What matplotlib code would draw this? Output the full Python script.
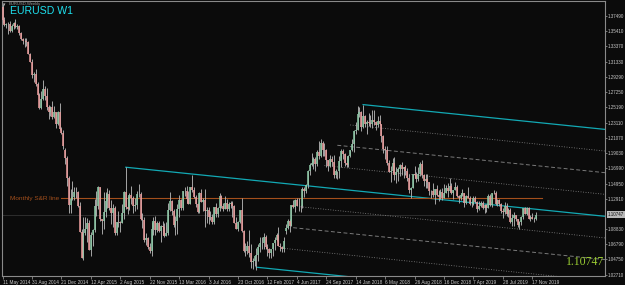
import numpy as np
import matplotlib.pyplot as plt
from matplotlib.transforms import blended_transform_factory

# EURUSD weekly bars, first bar = week of 11 May 2014
opens = [
    # 2014
    1.3870, 1.3696, 1.3630, 1.3633, 1.3643, 1.3542, 1.3608, 1.3645, 1.3595, 1.3605, 1.3523, 1.3430,
    1.3415, 1.3407, 1.3401, 1.3240, 1.3132, 1.2951, 1.2962, 1.2836, 1.2685, 1.2515, 1.2627, 1.2760,
    1.2672, 1.2526, 1.2450, 1.2526, 1.2387, 1.2451, 1.2289, 1.2462, 1.2229, 1.2180,
    # 2015
    1.1950, 1.1840, 1.1565, 1.1204, 1.1290, 1.1313, 1.1386, 1.1380, 1.1197, 1.0843, 1.0495, 1.0825,
    1.0890, 1.0970, 1.0603, 1.0807, 1.0872, 1.1199, 1.1200, 1.1448, 1.1015, 1.0987, 1.1110, 1.1265,
    1.1350, 1.1165, 1.1100, 1.1160, 1.0830, 1.0980, 1.0983, 1.0968, 1.1105, 1.1385, 1.1180, 1.1150,
    1.1338, 1.1297, 1.1196, 1.1211, 1.1360, 1.1350, 1.1015, 1.1003, 1.0740, 1.0770, 1.0645, 1.0590,
    1.0885, 1.0990, 1.0865, 1.0965,
    # 2016
    1.0856, 1.0925, 1.0915, 1.0797, 1.0830, 1.1134, 1.1255, 1.1130, 1.0932, 1.0996, 1.1155, 1.1270,
    1.1165, 1.1390, 1.1400, 1.1283, 1.1225, 1.1453, 1.1402, 1.1310, 1.1223, 1.1115, 1.1365, 1.1253,
    1.1277, 1.1120, 1.1138, 1.1050, 1.1040, 1.0975, 1.1174, 1.1086, 1.1165, 1.1323, 1.1197, 1.1155,
    1.1233, 1.1154, 1.1227, 1.1240, 1.1200, 1.0970, 1.0890, 1.0985, 1.1140, 1.0855, 1.0590, 1.0588,
    1.0660, 1.0560, 1.0448, 1.0450,
    # 2017
    1.0517, 1.0530, 1.0645, 1.0703, 1.0690, 1.0783, 1.0640, 1.0617, 1.0560, 1.0620, 1.0700, 1.0740,
    1.0800, 1.0652, 1.0640, 1.0620, 1.0860, 1.0895, 1.0998, 1.0930, 1.1205, 1.1180, 1.1280, 1.1197,
    1.1197, 1.1195, 1.1426, 1.1400, 1.1470, 1.1665, 1.1750, 1.1775, 1.1820, 1.1760, 1.1925, 1.1860,
    1.2035, 1.1945, 1.1950, 1.1813, 1.1730, 1.1820, 1.1785, 1.1605, 1.1665, 1.1665, 1.1795, 1.1930,
    1.1895, 1.1765, 1.1750, 1.1860, 1.1940,
    # 2018
    1.2030, 1.2200, 1.2220, 1.2425, 1.2460, 1.2250, 1.2405, 1.2295, 1.2315, 1.2310, 1.2290, 1.2355,
    1.2322, 1.2280, 1.2330, 1.2290, 1.2130, 1.1960, 1.1940, 1.1770, 1.1655, 1.1660, 1.1770, 1.1610,
    1.1655, 1.1684, 1.1745, 1.1685, 1.1720, 1.1657, 1.1570, 1.1410, 1.1440, 1.1625, 1.1605, 1.1555,
    1.1625, 1.1755, 1.1604, 1.1525, 1.1560, 1.1510, 1.1400, 1.1390, 1.1335, 1.1420, 1.1340, 1.1315,
    1.1380, 1.1305, 1.1370, 1.1440,
    # 2019
    1.1395, 1.1465, 1.1365, 1.1415, 1.1455, 1.1325, 1.1295, 1.1335, 1.1365, 1.1235, 1.1325, 1.1300,
    1.1217, 1.1217, 1.1300, 1.1245, 1.1150, 1.1200, 1.1235, 1.1160, 1.1205, 1.1170, 1.1330, 1.1210,
    1.1370, 1.1370, 1.1225, 1.1270, 1.1220, 1.1125, 1.1110, 1.1200, 1.1090, 1.1145, 1.0985, 1.1030,
    1.1075, 1.1017, 1.0940, 1.0980, 1.1040, 1.1170, 1.1080, 1.1165, 1.1020, 1.1050, 1.1020, 1.1016,
]
highs = [
    1.3906, 1.3733, 1.3650, 1.3670, 1.3677, 1.3641, 1.3658, 1.3700, 1.3640, 1.3620, 1.3530, 1.3444,
    1.3444, 1.3444, 1.3410, 1.3245, 1.3162, 1.2993, 1.3036, 1.2860, 1.2710, 1.2736, 1.2887, 1.2811,
    1.2774, 1.2545, 1.2535, 1.2599, 1.2531, 1.2456, 1.2470, 1.2570, 1.2250, 1.2208,
    1.1970, 1.1867, 1.1600, 1.1424, 1.1534, 1.1443, 1.1450, 1.1390, 1.1245, 1.0890, 1.1043, 1.1052,
    1.1035, 1.1000, 1.0850, 1.0890, 1.1290, 1.1392, 1.1467, 1.1450, 1.1020, 1.1380, 1.1385, 1.1436,
    1.1410, 1.1279, 1.1216, 1.1190, 1.0985, 1.1129, 1.0990, 1.1215, 1.1390, 1.1714, 1.1332, 1.1370,
    1.1460, 1.1330, 1.1295, 1.1390, 1.1495, 1.1387, 1.1095, 1.1042, 1.0830, 1.0780, 1.0690, 1.0981,
    1.1043, 1.1060, 1.0990, 1.0993,
    1.0941, 1.0986, 1.0960, 1.0985, 1.1240, 1.1376, 1.1270, 1.1152, 1.1059, 1.1218, 1.1342, 1.1290,
    1.1395, 1.1454, 1.1464, 1.1398, 1.1454, 1.1616, 1.1445, 1.1345, 1.1239, 1.1375, 1.1416, 1.1298,
    1.1428, 1.1180, 1.1186, 1.1120, 1.1080, 1.1176, 1.1235, 1.1185, 1.1366, 1.1340, 1.1240, 1.1327,
    1.1283, 1.1250, 1.1262, 1.1258, 1.1210, 1.1040, 1.0990, 1.1146, 1.1300, 1.0865, 1.0700, 1.0720,
    1.0874, 1.0680, 1.0490, 1.0520,
    1.0630, 1.0685, 1.0775, 1.0774, 1.0829, 1.0800, 1.0680, 1.0630, 1.0620, 1.0700, 1.0780, 1.0830,
    1.0906, 1.0700, 1.0660, 1.0780, 1.0951, 1.1020, 1.1024, 1.1213, 1.1268, 1.1285, 1.1296, 1.1296,
    1.1210, 1.1446, 1.1444, 1.1489, 1.1680, 1.1777, 1.1910, 1.1845, 1.1850, 1.1940, 1.2070, 1.2092,
    1.2060, 1.2035, 1.1960, 1.1815, 1.1880, 1.1860, 1.1880, 1.1688, 1.1670, 1.1860, 1.1960, 1.1961,
    1.1910, 1.1862, 1.1880, 1.1950, 1.2090,
    1.2215, 1.2323, 1.2537, 1.2523, 1.2470, 1.2555, 1.2415, 1.2355, 1.2446, 1.2410, 1.2476, 1.2478,
    1.2340, 1.2396, 1.2414, 1.2300, 1.2150, 1.1995, 1.1996, 1.1815, 1.1725, 1.1840, 1.1852, 1.1720,
    1.1720, 1.1762, 1.1790, 1.1720, 1.1750, 1.1700, 1.1620, 1.1445, 1.1620, 1.1734, 1.1650, 1.1720,
    1.1790, 1.1815, 1.1625, 1.1620, 1.1620, 1.1520, 1.1410, 1.1500, 1.1420, 1.1472, 1.1402, 1.1420,
    1.1440, 1.1486, 1.1475, 1.1500,
    1.1570, 1.1500, 1.1415, 1.1515, 1.1475, 1.1345, 1.1370, 1.1420, 1.1370, 1.1340, 1.1448, 1.1325,
    1.1255, 1.1325, 1.1324, 1.1265, 1.1265, 1.1265, 1.1265, 1.1215, 1.1215, 1.1348, 1.1348, 1.1370,
    1.1412, 1.1390, 1.1285, 1.1282, 1.1230, 1.1165, 1.1250, 1.1230, 1.1160, 1.1165, 1.1085, 1.1110,
    1.1075, 1.1025, 1.0990, 1.1060, 1.1170, 1.1180, 1.1175, 1.1175, 1.1070, 1.1095, 1.1040, 1.1116,
]
lows = [
    1.3647, 1.3617, 1.3585, 1.3503, 1.3525, 1.3530, 1.3575, 1.3590, 1.3573, 1.3491, 1.3421, 1.3367,
    1.3333, 1.3342, 1.3235, 1.3130, 1.2919, 1.2860, 1.2810, 1.2680, 1.2501, 1.2500, 1.2615, 1.2614,
    1.2488, 1.2358, 1.2396, 1.2360, 1.2380, 1.2247, 1.2275, 1.2220, 1.2165, 1.1960,
    1.1754, 1.1460, 1.1098, 1.1103, 1.1270, 1.1270, 1.1300, 1.1176, 1.0840, 1.0494, 1.0462, 1.0810,
    1.0712, 1.0600, 1.0521, 1.0660, 1.0850, 1.1055, 1.1150, 1.0990, 1.0818, 1.0887, 1.1050, 1.1167,
    1.1135, 1.0955, 1.0916, 1.0809, 1.0808, 1.0914, 1.0848, 1.0960, 1.1020, 1.1155, 1.1087, 1.1140,
    1.1216, 1.1105, 1.1127, 1.1147, 1.1312, 1.1003, 1.0897, 1.0705, 1.0674, 1.0617, 1.0558, 1.0524,
    1.0800, 1.0805, 1.0845, 1.0850,
    1.0711, 1.0805, 1.0778, 1.0790, 1.0810, 1.1130, 1.1067, 1.0913, 1.0810, 1.0822, 1.1050, 1.1144,
    1.1145, 1.1325, 1.1234, 1.1217, 1.1217, 1.1385, 1.1300, 1.1184, 1.1098, 1.1098, 1.1245, 1.1131,
    1.0912, 1.0965, 1.0952, 1.1000, 1.0952, 1.0950, 1.1045, 1.1045, 1.1120, 1.1172, 1.1123, 1.1150,
    1.1122, 1.1125, 1.1170, 1.1045, 1.0960, 1.0880, 1.0852, 1.0960, 1.0850, 1.0570, 1.0518, 1.0550,
    1.0505, 1.0366, 1.0352, 1.0390,
    1.0340, 1.0452, 1.0580, 1.0620, 1.0620, 1.0620, 1.0520, 1.0494, 1.0495, 1.0525, 1.0600, 1.0720,
    1.0650, 1.0590, 1.0570, 1.0570, 1.0820, 1.0880, 1.0839, 1.0920, 1.1160, 1.1110, 1.1195, 1.1132,
    1.1118, 1.1170, 1.1312, 1.1370, 1.1440, 1.1612, 1.1730, 1.1688, 1.1662, 1.1730, 1.1823, 1.1850,
    1.1866, 1.1860, 1.1717, 1.1669, 1.1720, 1.1730, 1.1574, 1.1575, 1.1555, 1.1575, 1.1712, 1.1830,
    1.1730, 1.1717, 1.1720, 1.1850, 1.1930,
    1.1915, 1.2165, 1.2215, 1.2385, 1.2206, 1.2240, 1.2260, 1.2155, 1.2270, 1.2260, 1.2240, 1.2285,
    1.2215, 1.2260, 1.2280, 1.2055, 1.1911, 1.1823, 1.1750, 1.1645, 1.1510, 1.1640, 1.1540, 1.1508,
    1.1528, 1.1590, 1.1613, 1.1575, 1.1612, 1.1530, 1.1365, 1.1301, 1.1430, 1.1565, 1.1510, 1.1527,
    1.1600, 1.1575, 1.1460, 1.1435, 1.1430, 1.1335, 1.1302, 1.1310, 1.1216, 1.1325, 1.1267, 1.1287,
    1.1269, 1.1300, 1.1365, 1.1310,
    1.1395, 1.1355, 1.1290, 1.1410, 1.1320, 1.1235, 1.1275, 1.1330, 1.1176, 1.1215, 1.1300, 1.1210,
    1.1185, 1.1210, 1.1230, 1.1110, 1.1135, 1.1175, 1.1155, 1.1106, 1.1115, 1.1160, 1.1200, 1.1180,
    1.1355, 1.1205, 1.1195, 1.1200, 1.1101, 1.1027, 1.1090, 1.1065, 1.1050, 1.0960, 1.0925, 1.0927,
    1.0990, 1.0905, 1.0879, 1.0940, 1.1020, 1.1080, 1.1075, 1.1015, 1.0990, 1.1015, 1.0981, 1.1000,
]
closes = [
    1.3696, 1.3630, 1.3633, 1.3643, 1.3542, 1.3608, 1.3645, 1.3595, 1.3605, 1.3523, 1.3430, 1.3415,
    1.3407, 1.3401, 1.3240, 1.3132, 1.2951, 1.2962, 1.2836, 1.2685, 1.2515, 1.2627, 1.2760, 1.2672,
    1.2526, 1.2450, 1.2526, 1.2387, 1.2451, 1.2289, 1.2462, 1.2229, 1.2180, 1.2000,
    1.1840, 1.1565, 1.1204, 1.1290, 1.1313, 1.1386, 1.1380, 1.1197, 1.0843, 1.0495, 1.0825, 1.0890,
    1.0970, 1.0603, 1.0807, 1.0872, 1.1199, 1.1200, 1.1448, 1.1015, 1.0987, 1.1110, 1.1265, 1.1350,
    1.1165, 1.1100, 1.1160, 1.0830, 1.0980, 1.0983, 1.0968, 1.1105, 1.1385, 1.1180, 1.1150, 1.1338,
    1.1297, 1.1196, 1.1211, 1.1360, 1.1350, 1.1015, 1.1003, 1.0740, 1.0770, 1.0645, 1.0590, 1.0885,
    1.0990, 1.0865, 1.0965, 1.0856,
    1.0925, 1.0915, 1.0797, 1.0830, 1.1134, 1.1255, 1.1130, 1.0932, 1.0996, 1.1155, 1.1270, 1.1165,
    1.1390, 1.1400, 1.1283, 1.1225, 1.1453, 1.1402, 1.1310, 1.1223, 1.1115, 1.1365, 1.1253, 1.1277,
    1.1120, 1.1138, 1.1050, 1.1040, 1.0975, 1.1174, 1.1086, 1.1165, 1.1323, 1.1197, 1.1155, 1.1233,
    1.1154, 1.1227, 1.1240, 1.1200, 1.0970, 1.0890, 1.0985, 1.1140, 1.0855, 1.0590, 1.0588, 1.0660,
    1.0560, 1.0448, 1.0450, 1.0517,
    1.0530, 1.0645, 1.0703, 1.0690, 1.0783, 1.0640, 1.0617, 1.0560, 1.0620, 1.0700, 1.0740, 1.0800,
    1.0652, 1.0640, 1.0620, 1.0725, 1.0895, 1.0998, 1.0930, 1.1205, 1.1180, 1.1280, 1.1197, 1.1197,
    1.1195, 1.1426, 1.1400, 1.1470, 1.1665, 1.1750, 1.1775, 1.1820, 1.1760, 1.1925, 1.1860, 1.2035,
    1.1945, 1.1950, 1.1813, 1.1730, 1.1820, 1.1785, 1.1605, 1.1665, 1.1665, 1.1795, 1.1930, 1.1895,
    1.1765, 1.1750, 1.1860, 1.1940, 1.2030,
    1.2200, 1.2220, 1.2425, 1.2460, 1.2250, 1.2405, 1.2295, 1.2315, 1.2310, 1.2290, 1.2355, 1.2322,
    1.2280, 1.2330, 1.2290, 1.2130, 1.1960, 1.1940, 1.1770, 1.1655, 1.1660, 1.1770, 1.1610, 1.1655,
    1.1684, 1.1745, 1.1685, 1.1720, 1.1657, 1.1570, 1.1410, 1.1440, 1.1625, 1.1605, 1.1555, 1.1625,
    1.1755, 1.1604, 1.1525, 1.1560, 1.1510, 1.1400, 1.1390, 1.1335, 1.1420, 1.1340, 1.1315, 1.1380,
    1.1305, 1.1370, 1.1440, 1.1395,
    1.1465, 1.1365, 1.1415, 1.1455, 1.1325, 1.1295, 1.1335, 1.1365, 1.1235, 1.1325, 1.1300, 1.1217,
    1.1217, 1.1300, 1.1245, 1.1150, 1.1200, 1.1235, 1.1160, 1.1205, 1.1170, 1.1330, 1.1210, 1.1370,
    1.1370, 1.1225, 1.1270, 1.1220, 1.1125, 1.1110, 1.1200, 1.1090, 1.1145, 1.0985, 1.1030, 1.1075,
    1.1017, 1.0940, 1.0980, 1.1040, 1.1170, 1.1080, 1.1165, 1.1020, 1.1050, 1.1020, 1.1016, 1.1075,
]

date_labels = ["11 May 2014", "31 Aug 2014", "21 Dec 2014", "12 Apr 2015", "2 Aug 2015",
               "22 Nov 2015", "13 Mar 2016", "3 Jul 2016", "23 Oct 2016", "12 Feb 2017",
               "4 Jun 2017", "24 Sep 2017", "14 Jan 2018", "6 May 2018", "26 Aug 2018",
               "16 Dec 2018", "7 Apr 2019", "28 Jul 2019", "17 Nov 2019"]
date_step = 16  # bars between date labels
price_ticks = [1.37490, 1.35410, 1.33370, 1.31330, 1.29290, 1.27250, 1.25190, 1.23110,
               1.21070, 1.19030, 1.16990, 1.14950, 1.12910, 1.08830, 1.06790, 1.04750, 1.02710]
last_price = 1.10747
sr_level = 1.1297
sr_bars = (32, 293)

# equidistant channels: (anchor bar, anchor price), slope per bar, width,
# and the bar where each level line (0, 25, 50, 75, 100 %) starts
chan_slope = -0.000253
chan_width = 0.1163
chan_a = (67, 1.1714)
chan_a_starts = [67, 162, 158, 152, 138]
chan_b = (196, 1.2555)
chan_b_starts = [196, 189, 182, 175]

bg = "#0b0b0b"
fg = "#c8c8c8"
cyan = "#12a9b4"
brown = "#a34f1c"

fig = plt.figure(figsize=(6.25, 2.85), dpi=100, facecolor=bg)
ax = fig.add_axes([2 / 625, 9 / 285, 603 / 625, 275 / 285])
ax.set_facecolor(bg)

x = np.arange(len(closes))
o = np.array(opens[:len(x)])
c = np.array(closes)
h = np.maximum(np.array(highs[:len(x)]), np.maximum(o, c))
l = np.minimum(np.array(lows[:len(x)]), np.minimum(o, c))
up = c >= o

# candles
ax.vlines(x, l, h, color="#b0b0b0", lw=0.65, zorder=3)
ax.vlines(x[up], o[up], c[up], color="#8cc8a6", lw=1.15, zorder=4)
ax.vlines(x[~up], c[~up], o[~up], color="#e89a9a", lw=1.15, zorder=4)

x_right = 327.5

def draw_channel(anchor, starts):
    for k, s in enumerate(starts):
        frac = k / 4
        xs = np.array([s, x_right])
        ys = anchor[1] + chan_slope * (xs - anchor[0]) - frac * chan_width
        if frac in (0, 1):
            ax.plot(xs, ys, color=cyan, lw=0.9, zorder=2)
        elif frac == 0.5:
            ax.plot(xs, ys, color="#7a7a7a", lw=0.7, ls=(0, (4, 2.5)), zorder=2)
        else:
            ax.plot(xs, ys, color="#8a8a8a", lw=0.6, ls=(0, (1, 2)), zorder=2)

draw_channel(chan_a, chan_a_starts)
draw_channel(chan_b, chan_b_starts)

# bid line and monthly S&R line
ax.axhline(last_price, color="#333333", lw=0.6, zorder=1)
ax.plot(sr_bars, [sr_level, sr_level], color=brown, lw=0.8, zorder=2)
ax.text(sr_bars[0] - 1.5, sr_level, "Monthly S&R line", color=brown, fontsize=4.6,
        family="Liberation Sans", ha="right", va="center")

ax.set_xlim(-0.3, x_right)
ax.set_ylim(1.02534, 1.39464)

ax.set_xticks(np.arange(len(date_labels)) * date_step)
ax.set_xticklabels(date_labels, ha="left")
ax.set_yticks(price_ticks)
ax.set_yticklabels([f"{v:.5f}" for v in price_ticks])
ax.yaxis.tick_right()
ax.tick_params(axis="both", colors="#8a8a8a", labelcolor=fg, width=0.6)
ax.tick_params(axis="x", length=2, pad=1.2, labelsize=3.4)
ax.tick_params(axis="y", length=1.5, pad=0.6, labelsize=3.25)
for lab in ax.get_xticklabels() + ax.get_yticklabels():
    lab.set_family("Liberation Sans")
for sp in ax.spines.values():
    sp.set_color("#8a8a8a")
    sp.set_linewidth(0.8)

# current price box on the axis
tr = blended_transform_factory(ax.transAxes, ax.transData)
ax.text(1.004, last_price, f"{last_price:.5f}", transform=tr, fontsize=3.25, color="#111111",
        family="Liberation Sans", ha="left", va="center", clip_on=False,
        bbox=dict(boxstyle="square,pad=0.2", fc="#b8b8b8", ec="none"))

# labels
ax.text(0.998, 0.052, f"{last_price:.5f}", transform=ax.transAxes, fontsize=8.5,
        family="Liberation Serif", color="#9acd32", ha="right", va="center")
fig.text(3 / 625, 1 - 4.5 / 285, "\u25be", fontsize=3.5, color="#bbbbbb", va="center")
fig.text(9 / 625, 1 - 4.5 / 285, "EURUSD,Weekly", fontsize=3.0, color="#9a9a9a",
         family="Liberation Sans", va="center")
fig.text(10 / 625, 1 - 6.5 / 285, "EURUSD W1", fontsize=7.6, color="#1ee0ee",
         family="Liberation Sans", va="top")

fig.savefig("out.png", dpi=100, facecolor=bg)
